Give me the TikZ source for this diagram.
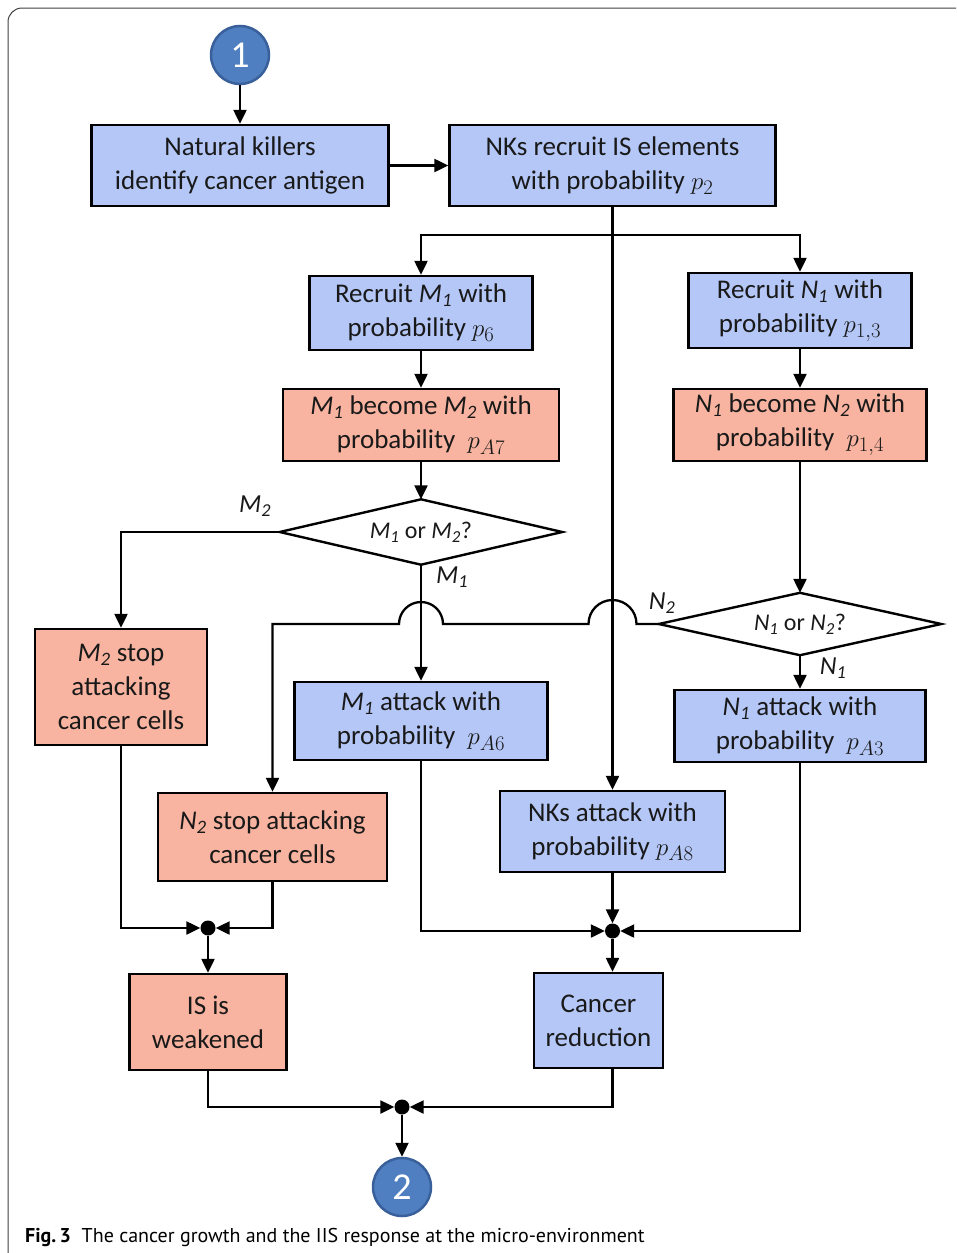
\documentclass[tikz,border=0pt]{standalone}
\usepackage{fontspec}
\setmainfont{Carlito}
\newfontfamily\capfont{PT Sans}
\usetikzlibrary{shapes.geometric,arrows.meta,calc}
\definecolor{bluebox}{RGB}{180,199,247}
\definecolor{salbox}{RGB}{248,180,160}
\definecolor{circfill}{RGB}{79,127,192}
\definecolor{circline}{RGB}{58,96,155}
\definecolor{txt}{RGB}{25,25,25}
\newcommand\ital[2]{\textit{#1}\textsubscript{\textit{#2}}}
\newcommand\pmath[1]{{\fontsize{28}{34}\selectfont$#1$}}
\begin{document}
\begin{tikzpicture}[x=1pt,y=1pt,
  font=\fontsize{27}{34}\selectfont, text=txt,
  arr/.style={line width=2.3pt,-{Triangle[length=14pt,width=13pt]}},
  ln/.style={line width=2.3pt},
  boxb/.style={draw, line width=2.4pt, fill=bluebox, align=center, inner sep=0pt},
  boxs/.style={draw, line width=2.4pt, fill=salbox, align=center, inner sep=0pt},
  dia/.style={inner sep=0pt, font=\fontsize{24}{28}\selectfont},
  diaw/.style={draw, line width=2.4pt, line join=miter},
  dot/.style={circle, fill=black, minimum size=15pt, inner sep=0pt},
  numc/.style={circle, draw=circline, line width=2.5pt, fill=circfill, minimum size=58pt, inner sep=0pt, text=white, font=\fontsize{38}{40}\selectfont},
  lab/.style={font=\fontsize{26}{28}\selectfont\itshape, inner sep=0pt}
]
\useasboundingbox (0,0) rectangle (956,-1253);
\draw[line width=1pt, black!75] (956,-8) -- (22,-8) arc (90:180:14) -- (8,-1253);

\node[numc] (c1) at (240,-55) {1};
\node[boxb, minimum width=297pt, minimum height=81pt] (A) at (240,-165.5) {Natural killers\\identify cancer antigen};
\node[boxb, minimum width=326pt, minimum height=81pt] (B) at (612.5,-165.5) {NKs recruit IS elements\\with probability \pmath{p_2}};
\node[boxb, minimum width=223pt, minimum height=74pt] (C) at (421,-313) {Recruit \ital{M}{1} with\\probability \pmath{p_6}};
\node[boxb, minimum width=223pt, minimum height=75pt] (D) at (800,-310.5) {Recruit \ital{N}{1} with\\probability \pmath{p_{1,3}}};
\node[boxs, minimum width=276pt, minimum height=72pt] (E) at (421,-425) {\ital{M}{1} become \ital{M}{2} with\\probability\ \ \pmath{p_{A7}}};
\node[boxs, minimum width=253pt, minimum height=72pt] (F) at (800,-425) {\ital{N}{1} become \ital{N}{2} with\\probability\ \ \pmath{p_{1,4}}};
\node[dia, minimum width=282pt, minimum height=65pt] (dM) at (421,-532) {\ital{M}{1} or \ital{M}{2}?};
\draw[diaw] (dM.west) -- (dM.north) -- (dM.east) -- (dM.south) -- cycle;
\node[dia, minimum width=282pt, minimum height=62pt] (dN) at (800,-624) {\ital{N}{1} or \ital{N}{2}?};
\draw[diaw] (dN.west) -- (dN.north) -- (dN.east) -- (dN.south) -- cycle;
\node[boxs, minimum width=172pt, minimum height=116pt] (G) at (121,-687) {\ital{M}{2} stop\\attacking\\cancer cells};
\node[boxb, minimum width=253pt, minimum height=78pt] (H) at (421,-721) {\ital{M}{1} attack with\\probability\ \ \pmath{p_{A6}}};
\node[boxb, minimum width=251pt, minimum height=72pt] (J) at (800,-726) {\ital{N}{1} attack with\\probability\ \ \pmath{p_{A3}}};
\node[boxs, minimum width=229pt, minimum height=88pt] (I) at (272.5,-837) {\ital{N}{2} stop attacking\\cancer cells};
\node[boxb, minimum width=225pt, minimum height=81pt] (K) at (612.5,-831.5) {NKs attack with\\probability \pmath{p_{A8}}};
\node[dot] (j1) at (208,-928) {};
\node[dot] (j2) at (612.5,-931) {};
\node[boxs, minimum width=157pt, minimum height=96pt] (L) at (208,-1022) {IS is\\weakened};
\node[boxb, minimum width=129pt, minimum height=95pt] (M) at (598.5,-1020.5) {Cancer\\reduction};
\node[dot] (j3) at (402,-1107) {};
\node[numc] (c2) at (402,-1187) {2};

\node[lab] (lM2) at (255,-506) {\ital{M}{2}};
\node[lab] (lM1) at (452,-577) {\ital{M}{1}};
\node[lab] (lN2) at (662,-603) {\ital{N}{2}};
\node[lab] (lN1) at (833,-668) {\ital{N}{1}};

\coordinate (split) at (612.5,-235);
\draw[arr] (c1.south) -- (A.north);
\draw[arr] (A.east) -- (B.west);
\draw[ln] (B.south) -- (split);
\draw[arr] (split) -| (C.north);
\draw[arr] (split) -| (D.north);
\draw[arr] (split) -- (K.north);
\draw[arr] (C.south) -- (E.north);
\draw[arr] (D.south) -- (F.north);
\draw[arr] (E.south) -- (dM.north);
\draw[arr] (F.south) -- (dN.north);
\draw[arr] (dM.west) -| (G.north);
\draw[arr] (dM.south) -- (H.north);
\draw[arr] (dN.south) -- (J.north);
\coordinate (jmpA) at (636.5,-624);
\coordinate (jmpB) at (443,-624);
\coordinate (bendI) at (272.5,-624);
\draw[arr] (dN.west) -- (jmpA) arc (0:180:24) -- (jmpB) arc (0:180:22) -- (bendI) -- (I.north);
\draw[arr] (G.south) |- (j1.west);
\draw[arr] (I.south) |- (j1.east);
\draw[arr] (j1.south) -- (L.north);
\draw[arr] (H.south) |- (j2.west);
\draw[arr] (J.south) |- (j2.east);
\draw[arr] (K.south) -- (j2.north);
\draw[arr] (j2.south) -- (j2.south |- M.north);
\draw[arr] (L.south) |- (j3.west);
\draw[arr] (j2 |- M.south) |- (j3.east);
\draw[arr] (j3.south) -- (c2.north);

\node[anchor=base west, inner sep=0pt, font=\capfont\fontsize{20}{24}\selectfont, text=black] (cap) at (25,-1242) {\textbf{Fig.\,3}\ \ The cancer growth and the IIS response at the micro-environment};
\end{tikzpicture}
\end{document}
